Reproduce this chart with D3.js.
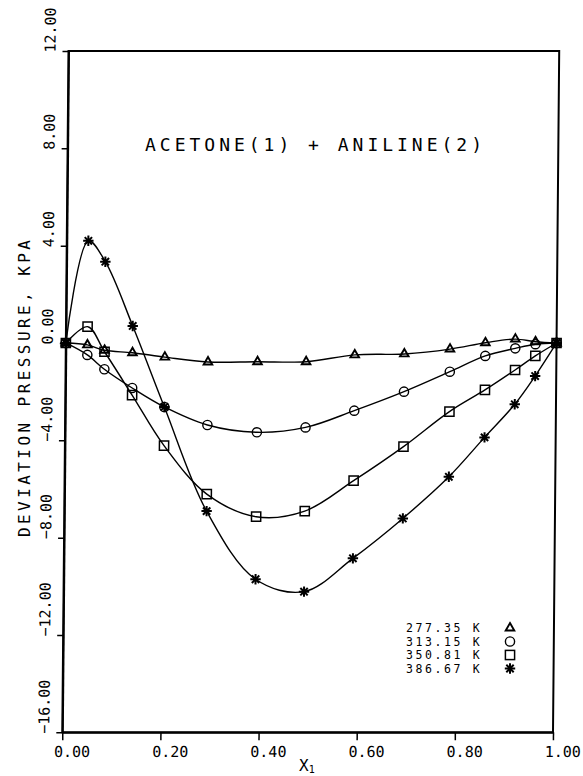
<!DOCTYPE html>
<html>
<head>
<meta charset="utf-8">
<script src="https://cdn.jsdelivr.net/npm/d3@7"></script>
<style>
  body { margin: 0; background: #fff; }
  text { font-family: "DejaVu Sans Mono", monospace; fill: #000; }
</style>
</head>
<body>
<script>
// Mole fraction of acetone and deviation pressures (kPa) per temperature
const compositions = [0, 0.044, 0.079, 0.136, 0.202, 0.290, 0.391, 0.490, 0.589, 0.690, 0.783, 0.855, 0.916, 0.957, 1.0];
const dev27735 = [0, -0.08, -0.30, -0.40, -0.58, -0.78, -0.77, -0.77, -0.49, -0.45, -0.25, 0.01, 0.16, 0.05, 0];
const dev31315 = [0, -0.49, -1.08, -1.85, -2.63, -3.37, -3.67, -3.47, -2.78, -2.00, -1.18, -0.53, -0.22, -0.05, 0];
const dev35081 = [0, 0.67, -0.36, -2.14, -4.22, -6.21, -7.14, -6.91, -5.66, -4.26, -2.82, -1.93, -1.11, -0.53, 0];
const dev38667 = [0, 4.20, 3.34, 0.70, -2.63, -6.91, -9.71, -10.22, -8.85, -7.21, -5.50, -3.88, -2.52, -1.36, 0];
const temperatures = ["277.35 K", "313.15 K", "350.81 K", "386.67 K"];
const markers = ["triangle", "circle", "square", "star"];
const xTicks = [0, 0.2, 0.4, 0.6, 0.8, 1.0];
const yTicks = [-16, -12, -8, -4, 0, 4, 8, 12];

const series = [dev27735, dev31315, dev35081, dev38667].map((vals, i) => ({
    name: temperatures[i],
    marker: markers[i],
    points: compositions.map((x, j) => ({ x: x, y: vals[j] }))
}));

const W = 583, H = 776;
const plotLeft = 62.3, plotRight = 553, plotTop = 51, plotBottom = 732.3;

const svg = d3.select("body").append("svg")
    .attr("width", W)
    .attr("height", H);

// the scanned plot leans slightly, so shear the frame a little
const lean = Math.atan(-0.0091) * 180 / Math.PI;
const plot = svg.append("g")
    .attr("transform", `translate(0,${plotBottom}) skewX(${lean}) translate(0,${-plotBottom})`);

const x = d3.scaleLinear().domain([0, 1]).range([plotLeft, plotRight]);
const y = d3.scaleLinear().domain([-16, 12]).range([plotBottom, plotTop]);

// frame
plot.append("rect")
    .attr("x", plotLeft).attr("y", plotTop)
    .attr("width", plotRight - plotLeft).attr("height", plotBottom - plotTop)
    .attr("fill", "none").attr("stroke", "#000").attr("stroke-width", 2);

// axes
const xAxis = plot.append("g")
    .attr("transform", `translate(0,${plotBottom})`)
    .call(d3.axisBottom(x).tickValues(xTicks).tickSize(8).tickSizeOuter(0).tickFormat(d3.format(".2f")));
xAxis.select(".domain").attr("stroke-width", 2);
xAxis.selectAll(".tick line").attr("stroke-width", 1.5);
xAxis.selectAll(".tick text")
    .attr("x", 9.5).attr("y", 24.7).attr("dy", 0)
    .attr("text-anchor", "middle")
    .style("font-size", "15px")
    .style("font-family", "'DejaVu Sans Mono', monospace");

const yAxis = plot.append("g")
    .attr("transform", `translate(${plotLeft},0)`)
    .call(d3.axisLeft(y).tickValues(yTicks).tickSize(6).tickSizeOuter(0).tickFormat(d3.format(".2f")));
yAxis.select(".domain").attr("stroke-width", 2);
yAxis.selectAll(".tick line").attr("stroke-width", 1.5);
yAxis.selectAll(".tick text")
    .attr("transform", "rotate(-90)")
    .attr("x", -1).attr("y", -13).attr("dy", 0)
    .attr("text-anchor", "start")
    .style("font-size", "15px")
    .style("font-family", "'DejaVu Sans Mono', monospace");

// curves
const line = d3.line()
    .x(d => x(d.x))
    .y(d => y(d.y))
    .curve(d3.curveCatmullRom.alpha(0.5));

plot.selectAll(".curve")
    .data(series)
    .enter()
    .append("path")
    .attr("class", "curve")
    .attr("d", d => line(d.points))
    .attr("fill", "none")
    .attr("stroke", "#000")
    .attr("stroke-width", 1.4);

// marker drawing
function drawMarker(g, type) {
    if (type === "triangle") {
        g.append("path")
            .attr("d", d3.symbol(d3.symbolTriangle, 32)())
            .attr("fill", "none").attr("stroke", "#000").attr("stroke-width", 1.9);
    } else if (type === "circle") {
        g.append("circle")
            .attr("r", 4.6)
            .attr("fill", "none").attr("stroke", "#000").attr("stroke-width", 1.4);
    } else if (type === "square") {
        g.append("rect")
            .attr("x", -4.6).attr("y", -4.6).attr("width", 9.2).attr("height", 9.2)
            .attr("fill", "none").attr("stroke", "#000").attr("stroke-width", 1.5);
    } else {
        const r = 5.2;
        d3.range(4).forEach(k => {
            const a = k * Math.PI / 4;
            g.append("line")
                .attr("x1", -r * Math.cos(a)).attr("y1", -r * Math.sin(a))
                .attr("x2", r * Math.cos(a)).attr("y2", r * Math.sin(a))
                .attr("stroke", "#000").attr("stroke-width", 2);
        });
        g.append("circle").attr("r", 2.4).attr("fill", "#000");
    }
}

series.forEach(s => {
    plot.selectAll(null)
        .data(s.points)
        .enter()
        .append("g")
        .attr("transform", d => `translate(${x(d.x)},${y(d.y)})`)
        .each(function () { drawMarker(d3.select(this), s.marker); });
});

// title
svg.append("text")
    .attr("x", 145).attr("y", 150.5)
    .attr("textLength", 337)
    .attr("lengthAdjust", "spacing")
    .style("font-size", "18px")
    .text("ACETONE(1)  +  ANILINE(2)");

// axis titles
svg.append("text")
    .attr("transform", "translate(29.5,537) rotate(-90)")
    .attr("textLength", 297)
    .attr("lengthAdjust", "spacing")
    .style("font-size", "16px")
    .text("DEVIATION PRESSURE, KPA");

const xt = svg.append("text")
    .attr("x", 299).attr("y", 771)
    .style("font-size", "16px");
xt.append("tspan").text("X");
xt.append("tspan").attr("dy", 2).style("font-size", "10px").text("1");

// legend
const legendRowGap = 13.5;
const legendTop = 632;
svg.selectAll(".legend-label")
    .data(series)
    .enter()
    .append("text")
    .attr("class", "legend-label")
    .attr("x", 406)
    .attr("y", (d, i) => legendTop + i * legendRowGap)
    .style("font-size", "11.5px")
    .style("letter-spacing", "2.6px")
    .text(d => d.name.replace(" ", "  "));

svg.selectAll(".legend-mark")
    .data(series)
    .enter()
    .append("g")
    .attr("class", "legend-mark")
    .attr("transform", (d, i) => `translate(510,${legendTop - 4 + i * legendRowGap})`)
    .each(function (d) { drawMarker(d3.select(this), d.marker); });
</script>
</body>
</html>
